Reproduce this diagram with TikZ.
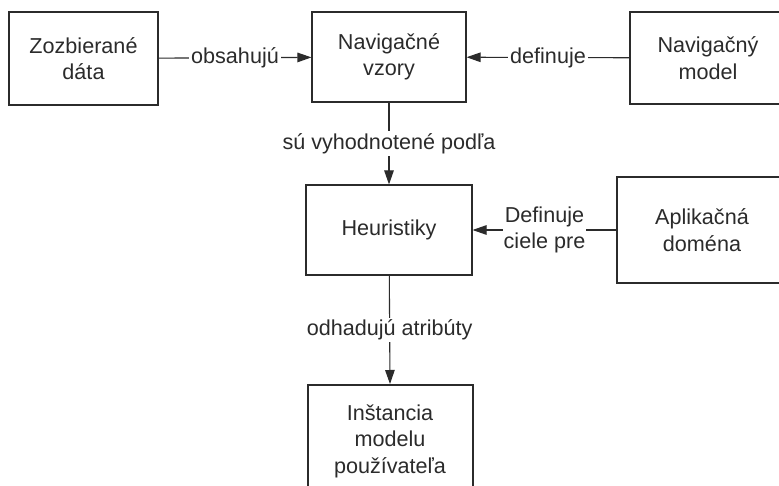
\documentclass[tikz,border=0pt]{standalone}
\usepackage{fontspec}
\setmainfont{Liberation Sans}
\usetikzlibrary{arrows.meta}
\definecolor{ink}{HTML}{2B2B2B}
\begin{document}
\begin{tikzpicture}[x=1pt,y=-1pt,
  txt/.style={font=\fontsize{21.6}{26.5}\selectfont, text=ink},
  box/.style={txt, draw=ink, line width=1.1pt, inner sep=0pt, align=center},
  thickbox/.style={box, line width=2pt},
  conn/.style={draw=ink, line width=1.1pt, -{Triangle[length=14pt,width=9.5pt]}},
  lbl/.style={txt, fill=white, inner sep=2pt, align=center, midway}]
  \useasboundingbox (0,0) rectangle (779,486);
  \clip (0,0) rectangle (779,486);
  \fill[white] (0,0) rectangle (779,486);

  % boxes
  \node[box, minimum width=149pt, minimum height=93pt] (zd) at (83.5,58.5) {Zozbierané\\dáta};
  \node[box, minimum width=154pt, minimum height=90pt] (nv) at (389,57) {Navigačné\\vzory};
  \node[box, minimum width=156pt, minimum height=92pt] (nm) at (708,58) {Navigačný\\model};
  \node[box, minimum width=166pt, minimum height=90pt] (he) at (389,230) {Heuristiky};
  \node[box, minimum width=170pt, minimum height=106pt] (ad) at (702,230) {Aplikačná\\doména};
  \node[thickbox, minimum width=165pt, minimum height=112pt] (in) at (390,441) {Inštancia\\modelu\\používateľa};

  % connectors
  \draw[conn] (zd) -- node[lbl] {obsahujú} (nv);
  \draw[conn] (nm) -- node[lbl] {definuje} (nv);
  \draw[conn] (nv) -- node[lbl] {sú vyhodnotené podľa} (he);
  \draw[conn] (ad) -- node[lbl, inner sep=1pt] {Definuje\\ciele pre} (he);
  \draw[conn] (he) -- node[lbl] {odhadujú atribúty} (in.north);
\end{tikzpicture}
\end{document}
